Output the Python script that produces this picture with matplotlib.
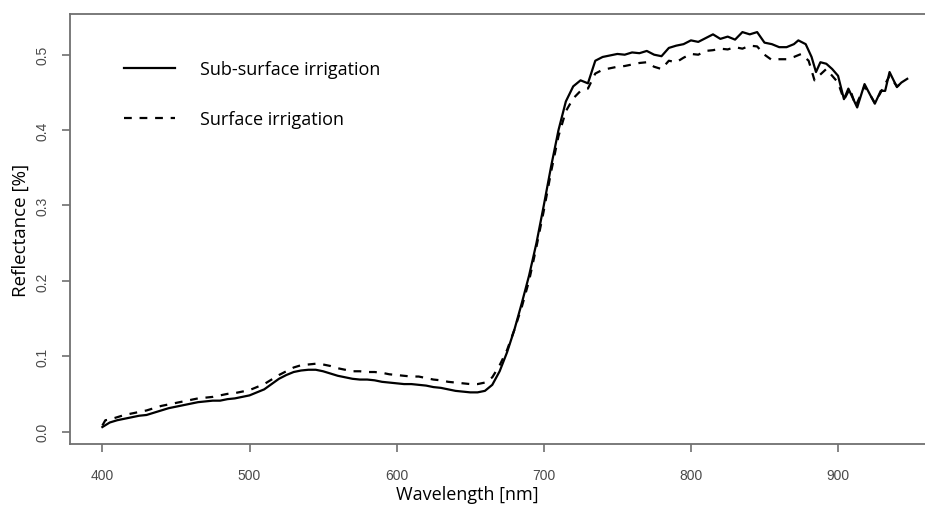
import matplotlib
matplotlib.use('Agg')
import matplotlib.pyplot as plt

# 数据：两种灌溉方式的光谱反射率
wl_sub = [400, 405, 410, 415, 420, 425, 430, 435, 440, 445, 450, 455, 460, 465, 470,
          475, 480, 485, 490, 495, 500, 505, 510, 515, 520, 525, 530, 535, 540, 545,
          550, 555, 560, 565, 570, 575, 580, 585, 590, 595, 600, 605, 610, 615, 620,
          625, 630, 635, 640, 645, 650, 655, 660, 665, 670, 675, 680, 685, 690, 695,
          700, 705, 710, 715, 720, 725, 730, 735, 740, 745, 750, 755, 760, 765, 770,
          775, 780, 785, 790, 795, 800, 805, 810, 815, 820, 825, 830, 835, 840, 845,
          850, 855, 860, 865, 870, 873, 878, 882, 885, 888, 892, 896, 900, 904, 907,
          913, 918, 922, 925, 929, 932, 935, 940, 943, 947]
refl_sub = [0.006, 0.012, 0.015, 0.017, 0.019, 0.021, 0.022, 0.025, 0.028, 0.031, 0.033,
            0.035, 0.037, 0.039, 0.040, 0.041, 0.041, 0.043, 0.044, 0.046, 0.048, 0.052,
            0.056, 0.063, 0.070, 0.075, 0.079, 0.081, 0.082, 0.082, 0.080, 0.077, 0.074,
            0.072, 0.070, 0.069, 0.069, 0.068, 0.066, 0.065, 0.064, 0.063, 0.063, 0.062,
            0.061, 0.059, 0.058, 0.056, 0.054, 0.053, 0.052, 0.052, 0.054, 0.062, 0.080,
            0.105, 0.135, 0.170, 0.207, 0.250, 0.300, 0.352, 0.400, 0.438, 0.458, 0.466,
            0.462, 0.492, 0.497, 0.499, 0.501, 0.500, 0.503, 0.502, 0.505, 0.500, 0.498,
            0.509, 0.512, 0.514, 0.519, 0.517, 0.522, 0.527, 0.521, 0.524, 0.520, 0.530,
            0.527, 0.530, 0.516, 0.514, 0.510, 0.510, 0.514, 0.519, 0.514, 0.497, 0.477,
            0.490, 0.488, 0.481, 0.472, 0.441, 0.455, 0.430, 0.461, 0.446, 0.435, 0.452,
            0.452, 0.477, 0.457, 0.463, 0.468]

wl_surf = [400, 402, 405, 410, 415, 420, 425, 430, 435, 440, 445, 450, 455, 460, 465, 470,
           475, 480, 485, 490, 495, 500, 505, 510, 515, 520, 525, 530, 535, 540, 545,
           550, 555, 560, 565, 570, 575, 580, 585, 590, 595, 600, 605, 610, 615, 620,
           625, 630, 635, 640, 645, 650, 655, 660, 665, 670, 675, 680, 685, 690, 695,
           700, 705, 710, 715, 720, 725, 730, 735, 740, 745, 750, 755, 760, 765, 770,
           775, 780, 785, 790, 795, 800, 805, 810, 815, 820, 825, 830, 835, 840, 845,
           850, 855, 860, 865, 870, 875, 880, 884, 887, 892, 896, 900, 904, 908, 912,
           918, 922, 925, 929, 935, 940, 943, 946]
refl_surf = [0.008, 0.015, 0.016, 0.019, 0.022, 0.024, 0.026, 0.028, 0.031, 0.034, 0.036,
             0.038, 0.040, 0.042, 0.044, 0.045, 0.046, 0.048, 0.050, 0.051, 0.053, 0.055,
             0.059, 0.063, 0.069, 0.075, 0.080, 0.085, 0.088, 0.089, 0.090, 0.089, 0.087,
             0.084, 0.082, 0.080, 0.080, 0.079, 0.079, 0.078, 0.076, 0.075, 0.074, 0.073,
             0.073, 0.071, 0.069, 0.068, 0.066, 0.065, 0.064, 0.063, 0.063, 0.065, 0.072,
             0.088, 0.108, 0.135, 0.165, 0.200, 0.245, 0.293, 0.345, 0.392, 0.425, 0.442,
             0.452, 0.455, 0.475, 0.480, 0.482, 0.484, 0.485, 0.487, 0.489, 0.490, 0.484,
             0.481, 0.492, 0.490, 0.496, 0.501, 0.500, 0.505, 0.506, 0.508, 0.507, 0.510,
             0.508, 0.512, 0.511, 0.500, 0.493, 0.494, 0.494, 0.497, 0.501, 0.492, 0.466,
             0.472, 0.481, 0.472, 0.463, 0.440, 0.455, 0.432, 0.458, 0.446, 0.436, 0.450,
             0.472, 0.458, 0.462, 0.466]

x_ticks = [400, 500, 600, 700, 800, 900]
y_ticks = [0.0, 0.1, 0.2, 0.3, 0.4, 0.5]
series_names = ['Sub-surface irrigation', 'Surface irrigation']

label_font = 'Open Sans'
tick_font = 'Liberation Sans'
grey = '#707070'

fig = plt.figure(figsize=(9.25, 5.06), dpi=100)
ax = fig.add_axes([70 / 925, 1 - 445 / 506, (944 - 70) / 925, (445 - 15) / 506])

ax.plot(wl_sub, refl_sub, color='black', lw=1.6, label=series_names[0])
ax.plot(wl_surf, refl_surf, color='black', lw=1.6, linestyle=(0, (3.5, 3.5)),
        label=series_names[1])

ax.set_xlim(378, 972)
ax.set_ylim(-0.0165, 0.554)
ax.set_xticks(x_ticks)
ax.set_yticks(y_ticks)
ax.set_xticklabels([str(t) for t in x_ticks], fontfamily=tick_font, fontsize=10, color='#4a4a4a')
ax.set_yticklabels(['%.1f' % t for t in y_ticks], fontfamily=tick_font, fontsize=10,
                   color='#4a4a4a', rotation=90, va='center')
ax.tick_params(axis='x', length=6, width=1.2, color=grey, pad=11)
ax.tick_params(axis='y', length=6, width=1.2, color=grey, pad=9)
for s in ax.spines.values():
    s.set_color(grey)
    s.set_linewidth(1.3)

# 坐标轴标签
fig.text(467 / 925, 1 - 495 / 506, 'Wavelength [nm]', ha='center', va='center',
         fontfamily=label_font, fontsize=13)
fig.text(21 / 925, 1 - 230 / 506, 'Reflectance [%]', ha='center', va='center',
         rotation=90, fontfamily=label_font, fontsize=13.5)

# 图例
leg = ax.legend(loc='upper left', bbox_to_anchor=(108 / 925, 1 - 45 / 506),
                bbox_transform=fig.transFigure, frameon=False,
                prop={'family': label_font, 'size': 13},
                handlelength=2.8, handletextpad=1.4, labelspacing=1.75)

fig.savefig('out.png', dpi=100)
